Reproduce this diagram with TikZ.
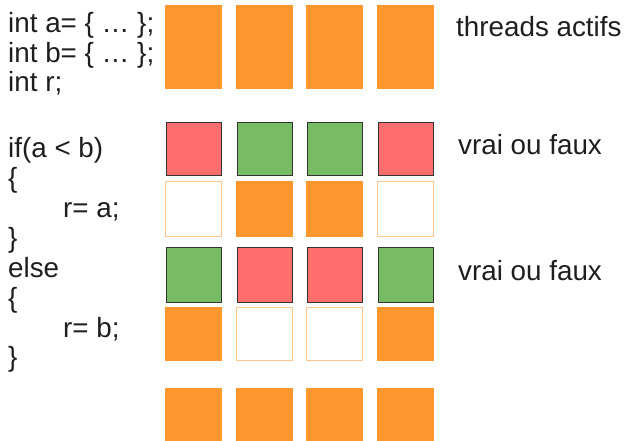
\documentclass[tikz,border=0pt]{standalone}
\usepackage{fontspec}
\setmainfont{Liberation Sans}
\definecolor{orng}{HTML}{FF972F}
\definecolor{orngline}{HTML}{FFC68C}
\definecolor{rd}{HTML}{FF6D6D}
\definecolor{gr}{HTML}{77BC65}
\definecolor{txt}{HTML}{1E1E1E}
\begin{document}
\begin{tikzpicture}[x=1pt,y=-1pt,
  txtstyle/.style={anchor=base west,inner sep=0pt,text=txt,font=\fontsize{27.8}{30}\selectfont},
  cell/.style={rectangle,inner sep=0pt,outer sep=0pt,minimum width=57pt,anchor=north west},
  oncell/.style={cell,fill=orng},
  offcell/.style={cell,fill=white,draw=orngline,line width=1pt},
  truecell/.style={cell,fill=gr,draw=black!80,line width=1pt},
  falsecell/.style={cell,fill=rd,draw=black!80,line width=1pt}]
\useasboundingbox (0,0) rectangle (624,441);
% code
\node[txtstyle] (c1) at (8,33) {int a= \{ … \};};
\node[txtstyle] (c2) at (8,63) {int b= \{ … \};};
\node[txtstyle] (c3) at (8,92) {int r;};
\node[txtstyle] (c4) at (8,158) {if(a < b)};
\node[txtstyle] (c5) at (8,188) {\{};
\node[txtstyle] (c6) at (63,217) {r= a;};
\node[txtstyle] (c7) at (8,247) {\}};
\node[txtstyle] (c8) at (8,277) {else};
\node[txtstyle] (c9) at (8,307) {\{};
\node[txtstyle] (c10) at (63,337) {r= b;};
\node[txtstyle] (c11) at (8,366) {\}};
% labels
\node[txtstyle] (l1) at (456,37) {threads actifs};
\node[txtstyle] (l2) at (458,155) {vrai ou faux};
\node[txtstyle] (l3) at (458,280) {vrai ou faux};
% row 0: active threads
\foreach \x [count=\i] in {165,236,306,377}{
  \node[oncell,minimum height=84pt] (a\i) at (\x,5) {};
}
% row 1: condition
\node[falsecell,minimum width=55pt,minimum height=53pt] (b1) at (166,123) {};
\node[truecell,minimum width=55pt,minimum height=53pt] (b2) at (237,123) {};
\node[truecell,minimum width=55pt,minimum height=53pt] (b3) at (307,123) {};
\node[falsecell,minimum width=55pt,minimum height=53pt] (b4) at (378,123) {};
% row 2: if branch
\node[offcell,minimum width=56pt,minimum height=55pt] (c1x) at (165.5,181.5) {};
\node[oncell,minimum height=56pt] (c2x) at (236,181) {};
\node[oncell,minimum height=56pt] (c3x) at (306,181) {};
\node[offcell,minimum width=56pt,minimum height=55pt] (c4x) at (377.5,181.5) {};
% row 3: condition for else
\node[truecell,minimum width=55pt,minimum height=55pt] (d1) at (166,247) {};
\node[falsecell,minimum width=55pt,minimum height=55pt] (d2) at (237,247) {};
\node[falsecell,minimum width=55pt,minimum height=55pt] (d3) at (307,247) {};
\node[truecell,minimum width=55pt,minimum height=55pt] (d4) at (378,247) {};
% row 4: else branch
\node[oncell,minimum height=54pt] (e1) at (165,307) {};
\node[offcell,minimum width=56pt,minimum height=53pt] (e2) at (236.5,307.5) {};
\node[offcell,minimum width=56pt,minimum height=53pt] (e3) at (306.5,307.5) {};
\node[oncell,minimum height=54pt] (e4) at (377,307) {};
% row 5: final
\foreach \x [count=\i] in {165,236,306,377}{
  \node[oncell,minimum height=53pt] (f\i) at (\x,388) {};
}
\end{tikzpicture}
\end{document}
